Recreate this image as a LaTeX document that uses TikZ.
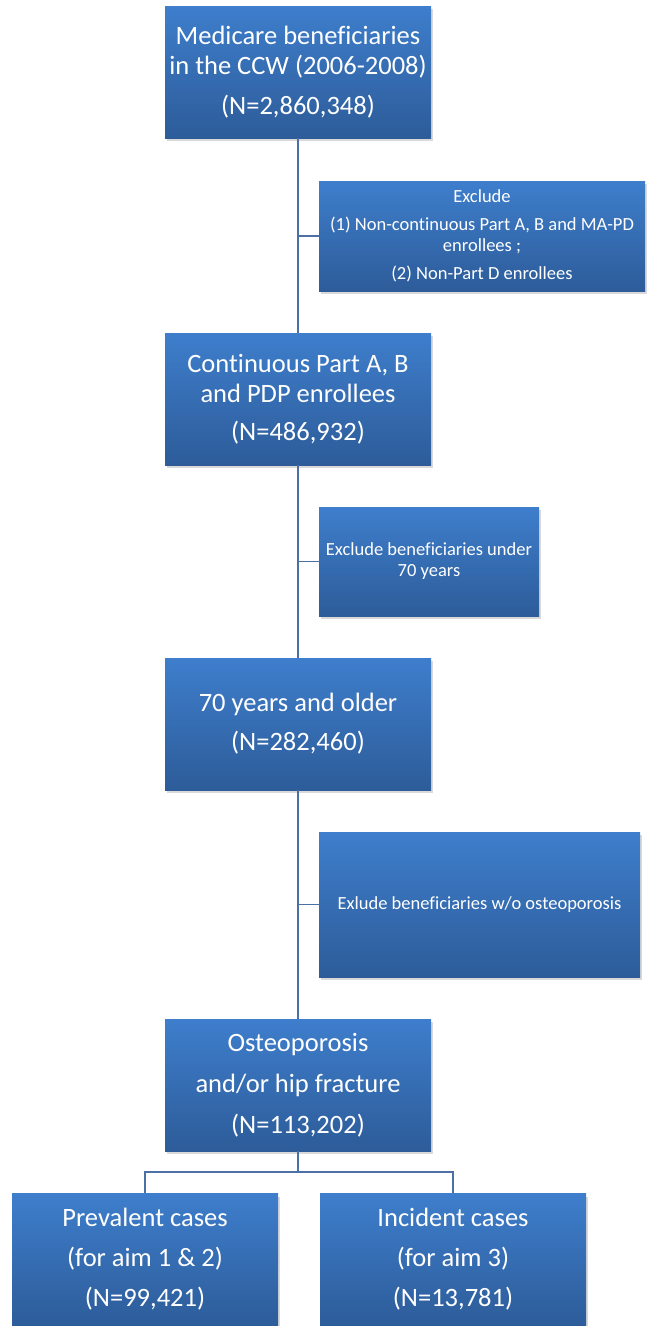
\documentclass[tikz,border=0pt]{standalone}
\usepackage{fontspec}
\setmainfont{Carlito}[Ligatures=NoCommon]
\usetikzlibrary{positioning, shadows}

\begin{document}
\begin{tikzpicture}[x=1pt, y=-1pt]
  \definecolor{boxtop}{RGB}{62,126,204}
  \definecolor{boxbot}{RGB}{45,92,153}
  \definecolor{linkcol}{RGB}{76,112,166}
  \tikzset{
    stage/.style={rectangle, minimum width=266pt, minimum height=132pt,
      align=center, text=white, inner sep=0pt,
      font=\fontsize{26.5}{30}\selectfont,
      top color=boxtop, bottom color=boxbot,
      drop shadow={opacity=0.3, shadow xshift=1.5pt, shadow yshift=-3pt}},
    exclbox/.style={rectangle, align=center, text=white, inner sep=0pt,
      font=\fontsize{18.5}{21}\selectfont,
      top color=boxtop, bottom color=boxbot,
      drop shadow={opacity=0.3, shadow xshift=1.5pt, shadow yshift=-3pt}},
    link/.style={draw=linkcol, line width=1.8pt}
  }
  \useasboundingbox (0,0) rectangle (655,1326);
  % main stages
  \node[stage] (medicare) at (298,72) {Medicare beneficiaries\\in the CCW (2006-2008)\\[10pt](N=2,860,348)};
  \node[stage] (contin) at (298,399) {Continuous Part A, B\\and PDP enrollees\\[8pt](N=486,932)};
  \node[stage] (seventy) at (298,724) {70 years and older\\[9pt](N=282,460)};
  \node[stage] (osteo) at (298,1085) {Osteoporosis\\[11pt]and/or hip fracture\\[11pt](N=113,202)};
  \node[stage] (prev) at (145,1259.5) {Prevalent cases\\[10pt](for aim 1 \& 2)\\[10pt](N=99,421)};
  \node[stage] (incid) at (453,1259.5) {Incident cases\\[10pt](for aim 3)\\[10pt](N=13,781)};
  % exclusions
  \node[exclbox, minimum width=326pt, minimum height=110pt] (excl1) at (482,236)
    {Exclude\\[7pt](1) Non-continuous Part A, B and MA-PD\\enrollees ;\\[7pt](2) Non-Part D enrollees};
  \node[exclbox, minimum width=220pt, minimum height=109pt] (excl2) at (429,561.5)
    {Exclude beneficiaries under\\70 years};
  \node[exclbox, minimum width=321pt, minimum height=145pt] (excl3) at (479.5,904.5)
    {Exlude beneficiaries w/o osteoporosis};
  % connectors
  \draw[link] (medicare.south) -- (contin.north);
  \draw[link] (contin.south) -- (seventy.north);
  \draw[link] (seventy.south) -- (osteo.north);
  \draw[link] (excl1.west) -- (excl1.west -| medicare.south);
  \draw[link] (excl2.west) -- (excl2.west -| medicare.south);
  \draw[link] (excl3.west) -- (excl3.west -| medicare.south);
  \draw[link] (osteo.south) -- ++(0,21) -| (prev.north);
  \draw[link] (osteo.south) -- ++(0,21) -| (incid.north);
\end{tikzpicture}
\end{document}
